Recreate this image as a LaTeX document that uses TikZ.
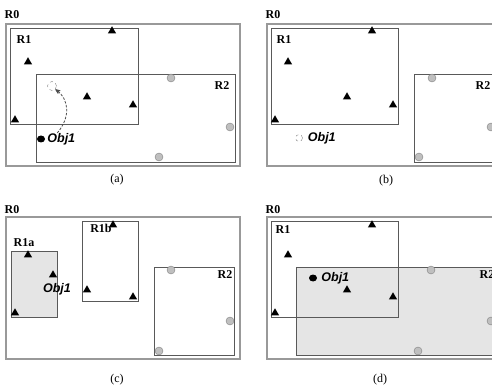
\documentclass[tikz,border=0pt]{standalone}
\usepackage{fontspec}
\setmainfont{Liberation Serif}
\setsansfont{Liberation Sans}
\usetikzlibrary{arrows,positioning,shapes.geometric}
\definecolor{framegray}{gray}{0.6}
\definecolor{boxgray}{gray}{0.35}
\definecolor{shadegray}{gray}{0.9}
\definecolor{dotgray}{gray}{0.75}
\tikzset{
    frame/.style={draw=framegray,line width=1.4pt},
    region/.style={draw=boxgray,line width=0.7pt},
    shaded/.style={fill=shadegray},
    tri/.style={regular polygon,regular polygon sides=3,fill=black,inner sep=0pt,minimum size=9.5pt},
    disc/.style={circle,draw=gray,fill=dotgray,inner sep=0pt,minimum size=8pt},
    obj/.style={ellipse,fill=black,inner sep=0pt,minimum width=8pt,minimum height=7pt},
    ghost/.style={circle,draw=gray,dashed,inner sep=0pt,minimum size=7pt},
    rlabel/.style={font=\fontsize{12}{14}\selectfont\bfseries,inner sep=0pt},
    olabel/.style={font=\fontsize{12.5}{14}\selectfont\sffamily\bfseries\itshape,inner sep=0pt},
    caption/.style={font=\fontsize{12}{14}\selectfont,inner sep=0pt},
    move/.style={->,dash pattern=on 2.5pt off 1.5pt,gray!60!black,line width=0.8pt,>=stealth'}
}

\begin{document}
\begin{tikzpicture}[x=1pt,y=-1pt]

    \useasboundingbox (0,0) rectangle (492,390);
    \clip (0,0) rectangle (492,390);

    % (a)
    \draw[frame]  (6,24) rectangle (240,166);
    \draw[region] (10,28) rectangle (138,124);
    \draw[region] (36,74) rectangle (235,162);
    \node[rlabel] (r0 a) at (12,15) {R0};
    \node[rlabel] (r1 a) at (24,40) {R1};
    \node[rlabel] (r2 a) at (222,86) {R2};

    \node[tri] (t a1) at (112,31) {};
    \node[tri] (t a2) at (28,62) {};
    \node[tri] (t a3) at (87,97) {};
    \node[tri] (t a4) at (133,105) {};
    \node[tri] (t a5) at (15,120) {};
    \node[disc] (c a1) at (171,78) {};
    \node[disc] (c a2) at (230,127) {};
    \node[disc] (c a3) at (159,157) {};

    \node[obj]    (o a)   at (41,139) {};
    \node[olabel] (lbl a) [right=2pt of o a] {Obj1};
    \node[ghost,minimum size=9pt] (g a) at (52,86) {};
    \draw[move] ([xshift=-4pt]lbl a.north) .. controls (70,118) and (70,100) .. (g a.south east);
    \node[caption] (cap a) at (117,180) {(a)};

    % (b)
    \draw[frame]  (267,24) rectangle (500,166);
    \draw[region] (271,28) rectangle (398,124);
    \draw[region] (414,74) rectangle (500,162);
    \node[rlabel] (r0 b) at (273,15) {R0};
    \node[rlabel] (r1 b) at (284,40) {R1};
    \node[rlabel] (r2 b) at (483,86) {R2};

    \node[tri] (t b1) at (372,31) {};
    \node[tri] (t b2) at (288,62) {};
    \node[tri] (t b3) at (347,97) {};
    \node[tri] (t b4) at (393,105) {};
    \node[tri] (t b5) at (275,120) {};
    \node[disc] (c b1) at (432,78) {};
    \node[disc] (c b2) at (491,127) {};
    \node[disc] (c b3) at (419,157) {};

    \node[ghost]  (g b)   at (299,138) {};
    \node[olabel] (lbl b) [right=5pt of g b] {Obj1};
    \node[caption] (cap b) at (386,181) {(b)};

    % (c)
    \draw[frame]  (6,217) rectangle (240,359);
    \draw[region,shaded] (11,251) rectangle (57,317);
    \draw[region] (82,221) rectangle (138,301);
    \draw[region] (154,267) rectangle (234,355);
    \node[rlabel] (r0 c)  at (12,210) {R0};
    \node[rlabel] (r1a c) at (24,243) {R1a};
    \node[rlabel] (r1b c) at (101,228) {R1b};
    \node[rlabel] (r2 c)  at (225,275) {R2};

    \node[tri] (t c1) at (28,255) {};
    \node[tri] (t c2) at (53,275) {};
    \node[tri] (t c3) at (15,313) {};
    \node[tri] (t c4) at (113,225) {};
    \node[tri] (t c5) at (87,290) {};
    \node[tri] (t c6) at (133,297) {};
    \node[disc] (c c1) at (171,270) {};
    \node[disc] (c c2) at (230,321) {};
    \node[disc] (c c3) at (159,351) {};

    \node[olabel] (lbl c) at (57,289) {Obj1};
    \node[caption] (cap c) at (117,380) {(c)};

    % (d)
    \draw[frame]  (267,217) rectangle (500,359);
    \fill[shaded] (296,267) rectangle (500,355);
    \draw[region] (271,221) rectangle (398,317);
    \draw[region] (296,267) rectangle (500,355);
    \node[rlabel] (r0 d) at (273,210) {R0};
    \node[rlabel] (r1 d) at (283,230) {R1};
    \node[rlabel] (r2 d) at (487,275) {R2};

    \node[tri] (t d1) at (372,225) {};
    \node[tri] (t d2) at (288,255) {};
    \node[tri] (t d3) at (347,290) {};
    \node[tri] (t d4) at (393,297) {};
    \node[tri] (t d5) at (275,313) {};
    \node[disc] (c d1) at (431,270) {};
    \node[disc] (c d2) at (491,321) {};
    \node[disc] (c d3) at (418,351) {};

    \node[obj]    (o d)   at (313,278) {};
    \node[olabel] (lbl d) [right=4pt of o d] {Obj1};
    \node[caption] (cap d) at (380,380) {(d)};

\end{tikzpicture}
\end{document}
